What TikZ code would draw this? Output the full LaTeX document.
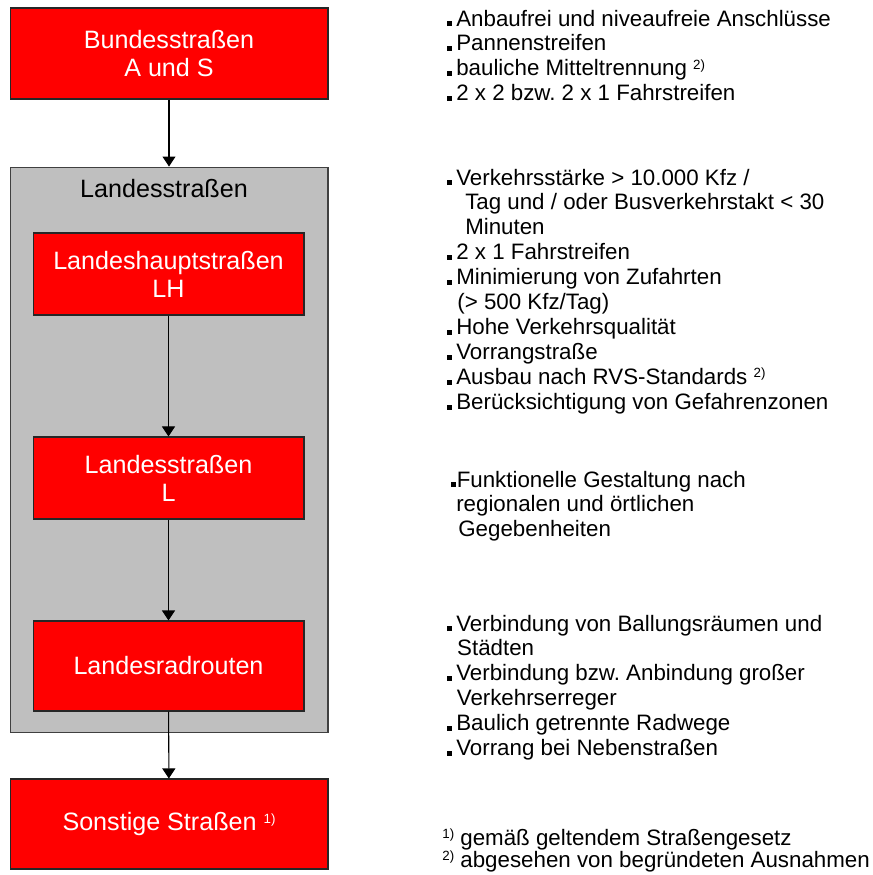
\documentclass[tikz,border=0pt]{standalone}
\usepackage{fontspec}
\setmainfont{Liberation Sans}
\usetikzlibrary{arrows.meta}
\usetikzlibrary{positioning}
\frenchspacing
\definecolor{mred}{rgb}{1, 0, 0}
\definecolor{mgray}{rgb}{0.75, 0.75, 0.75}
\tikzset{roadbox/.style = {draw=black!85, fill=mred, text=white, line width=0.6pt,
                           minimum width=5.42cm, minimum height=1.64cm, align=center,
                           font=\fontsize{14.3pt}{15.9pt}\selectfont},
         notes/.style = {anchor=north west, inner sep=0pt, align=left,
                         font=\fontsize{12.7pt}{14.2pt}\selectfont},
         footnote/.style = {anchor=base west, inner sep=0pt,
                            font=\fontsize{12.7pt}{14.2pt}\selectfont},
         flow/.style = {-{Triangle[width=7.4pt, length=5.7pt]}, line width=0.6pt}}
\newcommand{\bul}{\rule{2.8pt}{2.8pt}\hspace{2.3pt}}
\newcommand{\fnmark}[1]{\raisebox{3.8pt}{\fontsize{7.6pt}{8pt}\selectfont #1}}

\begin{document}
\begin{tikzpicture}[x=0.02cm, y=-0.02cm]
    \useasboundingbox (0, 0) rectangle (872, 875);

    % road classes
    \node [roadbox, minimum width=6.36cm, minimum height=1.82cm] (bund) at (169, 53.5)
        {Bundesstraßen\\A und S};
    \node [draw=black!75, fill=mgray, line width=0.6pt,
           minimum width=6.36cm, minimum height=11.32cm] (lands) at (169, 450) {};
    \node [font=\fontsize{14.3pt}{15.9pt}\selectfont] (landstitle) at (164, 189) {Landesstraßen};
    \node [roadbox] (lh) at (168.5, 274) {Landeshauptstraßen\\LH};
    \node [roadbox] (ls) at (168.5, 478) {Landesstraßen\\L};
    \node [roadbox, minimum height=1.8cm] (lr) at (168.5, 666) {Landesradrouten};
    \node [roadbox, minimum width=6.36cm, minimum height=1.8cm] (sonst) at (169, 824)
        {Sonstige Straßen \fnmark{1)}};

    \draw [flow] (bund) -- (lands);
    \draw [flow] (lh) -- (ls);
    \draw [flow] (ls) -- (lr);
    \draw [flow] (lr) -- (sonst);

    % criteria
    \node [notes] (bundinfo) at (447, 9.5)
        {\bul Anbaufrei und niveaufreie Anschlüsse\\
         \bul Pannenstreifen\\
         \bul bauliche Mitteltrennung \fnmark{2)}\\
         \bul 2 x 2 bzw. 2 x 1 Fahrstreifen};
    \node [notes] (lhinfo) at (447, 168.5)
        {\bul Verkehrsstärke > 10.000 Kfz /\\
         \hspace{10.2pt}Tag und / oder Busverkehrstakt < 30\\
         \hspace{10.2pt}Minuten\\
         \bul 2 x 1 Fahrstreifen\\
         \bul Minimierung von Zufahrten\\
         \hspace{5.7pt}(> 500 Kfz/Tag)\\
         \bul Hohe Verkehrsqualität\\
         \bul Vorrangstraße\\
         \bul Ausbau nach RVS-Standards \fnmark{2)}\\
         \bul Berücksichtigung von Gefahrenzonen};
    \node [notes] (lsinfo) at (451, 470.5)
        {\rule{2.8pt}{2.8pt}\hspace{0.3pt}Funktionelle Gestaltung nach\\
         \hspace{2.8pt}regionalen und örtlichen\\
         \hspace{4pt}Gegebenheiten};
    \node [notes] (lrinfo) at (447, 614.5)
        {\bul Verbindung von Ballungsräumen und\\
         \hspace{5.6pt}Städten\\
         \bul Verbindung bzw. Anbindung großer\\
         \hspace{5.4pt}Verkehrserreger\\
         \bul Baulich getrennte Radwege\\
         \bul Vorrang bei Nebenstraßen};

    % footnotes
    \node [footnote] (note1) at (442, 845) {\fnmark{1)} gemäß geltendem Straßengesetz};
    \node [footnote] (note2) at (442, 867) {\fnmark{2)} abgesehen von begründeten Ausnahmen};
\end{tikzpicture}
\end{document}
